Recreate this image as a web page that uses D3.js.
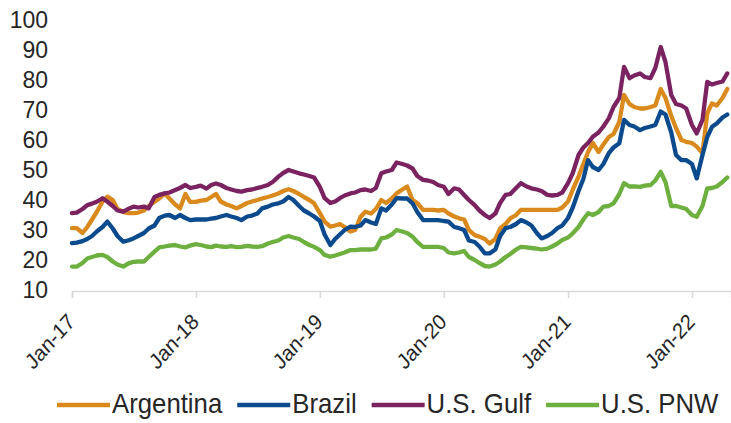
<!DOCTYPE html>
<html>
<head>
<meta charset="utf-8">
<script src="https://cdn.jsdelivr.net/npm/d3@7"></script>
<style>
  html, body { margin: 0; padding: 0; background: #ffffff; }
  svg { display: block; }
</style>
</head>
<body>
<svg id="chart" width="731" height="423"></svg>
<script>
// ---- data ----
const seriesNames = ["Argentina", "Brazil", "U.S. Gulf", "U.S. PNW"];
const tickLabels = ["Jan-17", "Jan-18", "Jan-19", "Jan-20", "Jan-21", "Jan-22"];
const yTicks = [10, 20, 30, 40, 50, 60, 70, 80, 90, 100];

// semi-monthly observations (1st and 15th), Jan 2017 .. Apr 2022
const argentina = [
  30.6,30.6,29,31,33.5,36,39.5,41.1,40,37,36,35.6,35.6,35.8,36.5,38,39.4,40.5,42.2,40.5,38.5,37.2,42,39.4,
  39.4,39.8,40,41,42,39.5,38.5,38,37.2,38,39,39.5,40,40.5,41,41.5,42.2,43,43.6,43,42,41,40,38.9,
  35.6,32.8,31.1,31.5,32,31,29.5,30,34.4,36.1,35.5,37,40,39,40.5,42.2,43.5,44.5,40,39,36.7,36.7,36.7,36.5,
  36.7,35.5,34.5,33.9,33.5,30,28.3,27.8,27,25.5,27,30.5,32,33.9,35,36.7,36.7,36.7,36.7,36.7,36.7,36.7,36.7,37.5,
  39.5,43.5,47.8,52,56,59,56,58.5,61,62,66,75,72,71,70.5,70.5,71,71.5,77,74,68,64,60,59.4,
  59,57.8,55.6,68.9,72.2,71.5,74,77
];
const brazil = [
  25.6,25.8,26.3,27,28,29.5,31,32.8,30.5,28,26.1,26.5,27.2,28,29,30.5,31.5,34,34.8,35,34,35,34,33.3,
  33.5,33.5,33.5,33.8,34,34.5,35,34.5,34,33.3,34.5,34.8,35.5,37.2,37.8,38.5,38.9,39.5,41,40,38,36.5,35.5,34.5,
  33,28.5,25,27,28.5,30,31.1,31,31.5,33.3,32.5,32,37.2,36.5,38.5,40.6,40.5,40.5,38.9,36,33.3,33.3,33.3,33.3,
  33,32.8,31,30.6,30,26.5,26,24.5,22.2,22.2,23.5,28,30.6,31,32,33.3,32.5,31.5,29,27.2,28,29,30.6,31.5,
  34,37.5,43,47,53.3,51,50,52,55.6,57.5,58.9,66.7,65,64.5,63.3,64,64.5,65,69.5,68.5,62.5,55,53.3,53.3,
  52,47.2,55,61,64.4,65.5,67.5,68.5
];
const usGulf = [
  35.6,35.8,37,38.3,38.8,39.4,40.6,39.5,38,36.5,36.1,37,37.8,37.5,37.8,37.2,41,41.7,42.2,42.5,43.3,44,45,44,
  44.4,44.8,43.8,45,45.5,45,44,43.5,43,42.8,43.3,43.5,44,44.4,45,46,47.8,49,50,49.5,48.9,48.5,48,47.5,
  44.4,40.6,39,39.5,40.6,41.5,42.2,42.5,43.3,43.5,43,44,48.9,49.5,50,52.5,52,51.5,50.5,48,46.7,46.5,46,45,
  44.4,42,43.9,43.5,41.7,40,38.3,36.5,35,34,35.5,39,41.7,42,44,45.6,44.5,43.9,43.5,43,41.7,41.5,41.7,42.5,
  45.6,49,55,57.5,59,61.1,62.5,64.5,67.2,71,74,84.4,80.6,81.5,82.2,81,80.6,84,91,86,75,72,71.5,70.5,
  65,62.2,66.7,79.4,78.5,79,79.5,82.2
];
const usPNW = [
  17.8,17.8,19,20.5,21,21.5,21.7,21,19.5,18.5,17.8,18.8,19.4,19.5,19.5,21,22.8,24.2,24.5,24.8,25,24.5,24.2,24.8,
  25.3,25,24.5,24.3,24.8,24.5,24.4,24.6,24.3,24.4,24.7,24.5,24.4,24.6,25.5,26,26.5,27.5,28,27.5,27,26,25,24.4,
  23.3,21.7,21.1,21.5,22,22.5,23.3,23.3,23.5,23.5,23.5,23.8,27.2,27.5,28.5,30,29.5,29,27.8,26,24.4,24.4,24.4,24.4,
  24,22.5,22.2,22.5,23,21,20,19,18,17.8,18.5,19.5,21,22,23.5,24.4,24.2,24,23.8,23.5,23.8,24.5,25.5,26.7,
  27.5,28.9,31,33.5,35.6,35,36,37.8,38,38.9,42,45.6,44.5,44.5,44.4,44.8,45,46.5,49.4,46,38,38,37.5,37,
  35,34.4,38,43.9,44,44.5,46,47.5
];
const seriesValues = [argentina, brazil, usGulf, usPNW];
const colors = ["#DA8A1C", "#0B4A8C", "#7B2361", "#6DB040"];

// observation dates
const dates = [];
d3.timeMonth.range(new Date(2017, 0, 1), new Date(2022, 4, 1)).forEach(m => {
  dates.push(m);
  dates.push(new Date(m.getFullYear(), m.getMonth(), 15));
});

// ---- chart ----
const svg = d3.select("#chart");
const x = d3.scaleTime()
  .domain([new Date(2017, 0, 1), new Date(2022, 3, 26)])
  .range([72, 731]);
const y = d3.scaleLinear().domain([10, 100]).range([290, 20]);

const font = "'Liberation Sans', Arial, sans-serif";
const textColor = "#262626";

// y labels
svg.append("g").selectAll("text").data(yTicks).join("text")
  .attr("x", 48).attr("y", d => y(d)).attr("dy", "0.35em")
  .attr("text-anchor", "end")
  .attr("font-family", font).attr("font-size", 23)
  .attr("fill", textColor)
  .text(d => d);

// x axis
const janDates = tickLabels.map((t, i) => new Date(2017 + i, 0, 1));
const xAxis = d3.axisBottom(x).tickValues(janDates).tickSize(7).tickFormat("");
const gx = svg.append("g").attr("transform", "translate(0,291)").call(xAxis);
gx.select(".domain").attr("stroke", "#d9d9d9").attr("stroke-width", 1.5);
gx.selectAll(".tick line").attr("stroke", "#d9d9d9").attr("stroke-width", 1.5);

svg.append("g").selectAll("text").data(janDates).join("text")
  .attr("transform", d => `translate(${x(d) + 4},${323}) scale(0.9,1) rotate(-45)`)
  .attr("text-anchor", "end")
  .attr("font-family", font).attr("font-size", 22)
  .attr("fill", textColor)
  .text((d, i) => tickLabels[i]);

// lines
const line = d3.line().x((d, i) => x(dates[i])).y(d => y(d));
svg.append("g").selectAll("path").data(seriesValues).join("path")
  .attr("d", d => line(d))
  .attr("fill", "none")
  .attr("stroke", (d, i) => colors[i])
  .attr("stroke-width", 4.3)
  .attr("stroke-linejoin", "round")
  .attr("stroke-linecap", "round");

// legend (condensed text)
const sx = 0.92;
const lg = svg.append("g");
let lx = 57;
seriesNames.forEach((name, i) => {
  lg.append("line").attr("x1", lx).attr("x2", lx + 53).attr("y1", 405).attr("y2", 405)
    .attr("stroke", colors[i]).attr("stroke-width", 4.5);
  const t = lg.append("text")
    .attr("transform", `translate(${lx + 55},413) scale(${sx},1)`)
    .attr("font-family", font).attr("font-size", 28)
    .attr("fill", textColor).text(name);
  lx += 55 + t.node().getComputedTextLength() * sx + 15;
});
</script>
</body>
</html>
